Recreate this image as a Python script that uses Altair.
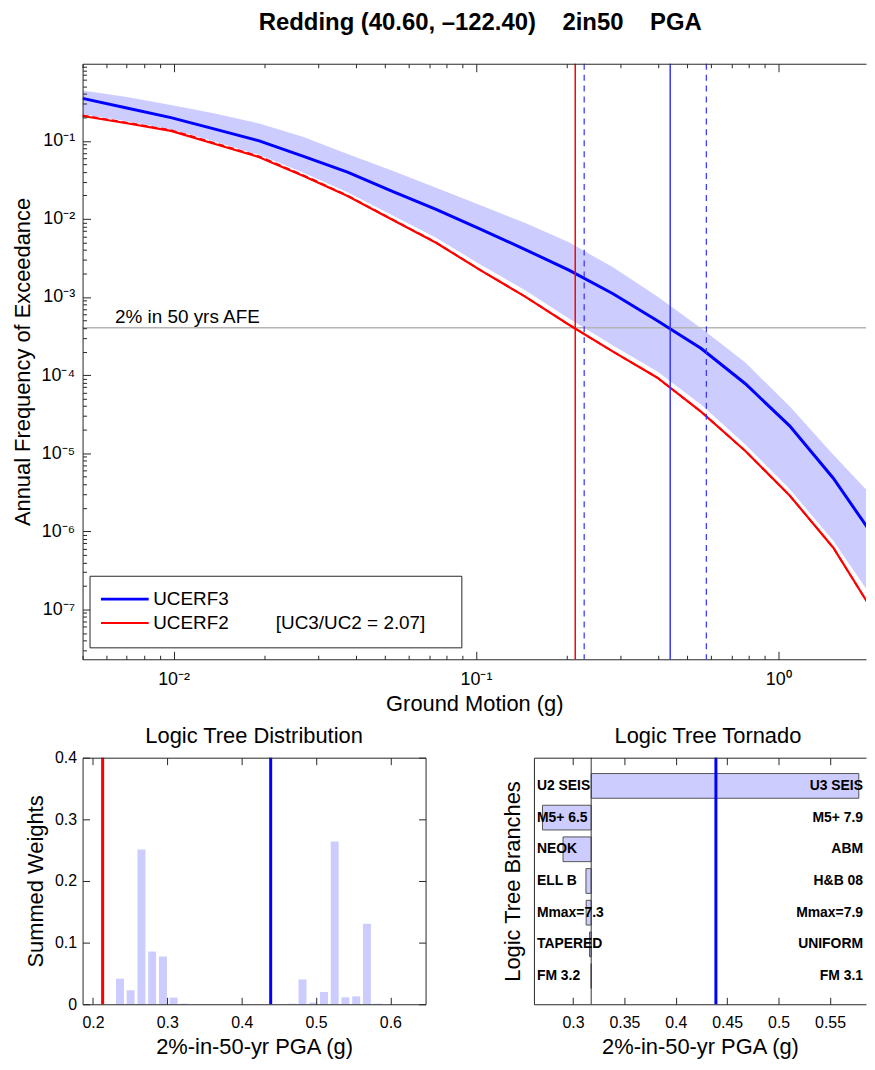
import altair as alt
import pandas as pd

FONT = "Liberation Sans, Arial, Helvetica, sans-serif"

# ---------------- data ----------------
TITLE = "Redding (40.60, \u2013122.40)\u00a0\u00a0\u00a0\u00a02in50\u00a0\u00a0\u00a0\u00a0PGA"

# ground-motion levels (g)
IML = [0.005, 0.007, 0.0098, 0.0137, 0.0192, 0.0269, 0.0376, 0.0527, 0.0738,
       0.103, 0.145, 0.203, 0.284, 0.397, 0.556, 0.778, 1.09, 1.52, 2.13]
UCERF3 = [0.349, 0.263, 0.198, 0.141, 0.100, 0.0631, 0.0398, 0.0227, 0.0132,
          0.00746, 0.00408, 0.00221, 0.00110, 5.01e-4, 2.19e-4, 7.76e-5,
          2.24e-5, 4.79e-6, 7.24e-7]
UCERF2 = [0.208, 0.168, 0.134, 0.0912, 0.0617, 0.0355, 0.0196, 0.00982, 0.00495,
          0.00223, 0.00102, 4.42e-4, 2.00e-4, 9.33e-5, 3.39e-5, 1.07e-5,
          2.88e-6, 6.17e-7, 7.59e-8]
UCERF2_DASHED = [0.212, 0.171, 0.137, 0.0935, 0.0632, 0.0362, 0.0199, 0.00995,
                 0.00500, 0.00224, 0.00102, 4.42e-4, 2.00e-4, 9.33e-5, 3.39e-5,
                 1.07e-5, 2.88e-6, 6.17e-7, 7.59e-8]
BAND_HIGH = [0.441, 0.363, 0.288, 0.224, 0.166, 0.112, 0.0676, 0.0417, 0.0251,
             0.0151, 0.00891, 0.00501, 0.00240, 0.00102, 3.98e-4, 1.45e-4,
             3.98e-5, 9.55e-6, 2.40e-6]
BAND_LOW = [0.219, 0.178, 0.141, 0.0977, 0.0661, 0.0389, 0.0219, 0.0112, 0.00575,
            0.00263, 0.00123, 5.31e-4, 2.40e-4, 1.12e-4, 4.17e-5, 1.29e-5,
            3.47e-6, 7.59e-7, 1.12e-7]

MODELS = ["UCERF3", "UCERF2"]
RATIO_TEXT = "[UC3/UC2 = 2.07]"
AFE_2IN50 = 4.04e-4
AFE_LABEL = "2% in 50 yrs AFE"
AFE_LABEL_X = 0.0064

UC2_2IN50 = 0.213
UC3_2IN50 = 0.439
UC3_RANGE = [0.228, 0.578]

# logic tree distribution histogram
HIST_PGA = [0.2363, 0.2507, 0.2652, 0.2796, 0.2941, 0.3085, 0.3229,
            0.4673, 0.4818, 0.4962, 0.5107, 0.5251, 0.5395, 0.5540, 0.5684, 0.5829]
HIST_WEIGHT = [0.0414, 0.0226, 0.251, 0.0855, 0.0774, 0.0108, 0.001,
               0.001, 0.0403, 0.0027, 0.0199, 0.264, 0.0113, 0.0129, 0.1306, 0.001]

# logic tree tornado
TORNADO_LOW = ["U2 SEIS", "M5+ 6.5", "NEOK", "ELL B", "Mmax=7.3", "TAPERED", "FM 3.2"]
TORNADO_HIGH = ["U3 SEIS", "M5+ 7.9", "ABM", "H&B 08", "Mmax=7.9", "UNIFORM", "FM 3.1"]
TORNADO_END = [0.578, 0.2703, 0.2903, 0.3126, 0.3128, 0.3161, 0.3177]
TORNADO_BASE = 0.3177

# axis limits / ticks
X_MIN, X_MAX = 0.005, 1.95
Y_MIN, Y_MAX = 2.3e-8, 0.97
HIST_X = [0.1927, 0.6406]
HIST_Y = [0, 0.4]
TORN_X = [0.262, 0.585]
HIST_XTICKS = [0.2, 0.3, 0.4, 0.5, 0.6]
HIST_YTICKS = [0, 0.1, 0.2, 0.3, 0.4]
TORN_XTICKS = [0.3, 0.35, 0.4, 0.45, 0.5, 0.55]

X_TICKS = [m * 10.0 ** e for e in range(-3, 1) for m in range(1, 10)
           if X_MIN <= m * 10.0 ** e <= X_MAX]
Y_TICKS = [m * 10.0 ** e for e in range(-8, 1) for m in range(1, 10)
           if Y_MIN <= m * 10.0 ** e <= Y_MAX]

BAND_COLOR = "#ccccff"
BLUE = "#0000ff"
RED = "#ff0000"
AX = "#262626"

# ---------------- helpers ----------------
IS_MAJOR = "abs(log(datum.value)/LN10 - round(log(datum.value)/LN10)) < 0.001"
SUPERS = ["\u2070", "\u207b\u00b9", "\u207b\u00b2", "\u207b\u00b3", "\u207b\u2074",
          "\u207b\u2075", "\u207b\u2076", "\u207b\u2077", "\u207b\u2078"]
LOG_LABEL = (IS_MAJOR + " ? '10' + [" + ",".join("'" + s + "'" for s in SUPERS) +
             "][-round(log(datum.value)/LN10)] : ''")
LOG_TICK = {"expr": IS_MAJOR + " ? -8 : -4"}
LIN_TICK = {"expr": "-7"}

xs = alt.Scale(type="log", domain=[X_MIN, X_MAX], nice=False)
ys = alt.Scale(type="log", domain=[Y_MIN, Y_MAX], nice=False)

main_x_axis = alt.Axis(orient="bottom", values=X_TICKS, labelExpr=LOG_LABEL,
                       tickSize=LOG_TICK, labelPadding=19, labelFontSize=18,
                       labelFlush=False, labelOverlap=False,
                       title="Ground Motion (g)", titleFontSize=22, titlePadding=2,
                       grid=False, zindex=1)
main_top_axis = alt.Axis(orient="top", values=X_TICKS, labels=False,
                         tickSize=LOG_TICK, title=None, grid=False, zindex=1)
main_y_axis = alt.Axis(orient="left", values=Y_TICKS, labelExpr=LOG_LABEL,
                       tickSize=LOG_TICK, labelPadding=16, labelFontSize=18,
                       labelOverlap=False, title="Annual Frequency of Exceedance",
                       titleFontSize=22, titlePadding=7, grid=False, zindex=1)

# ---------------- main hazard-curve panel ----------------
band_df = pd.DataFrame({"gm": IML, "lo": BAND_LOW, "hi": BAND_HIGH})
curve_df = pd.concat([
    pd.DataFrame({"gm": IML, "afe": UCERF3, "model": "UCERF3"}),
    pd.DataFrame({"gm": IML, "afe": UCERF2, "model": "UCERF2"}),
])
dash_df = pd.DataFrame({"gm": IML, "afe": UCERF2_DASHED})

band = alt.Chart(band_df).mark_area(color=BAND_COLOR, opacity=1, clip=True).encode(
    x=alt.X("gm:Q", scale=xs, axis=main_x_axis),
    y=alt.Y("lo:Q", scale=ys, axis=main_y_axis),
    y2="hi:Q",
)
afe_rule = alt.Chart(pd.DataFrame({"afe": [AFE_2IN50]})).mark_rule(
    color="#b4b4b4", strokeWidth=1.5).encode(y=alt.Y("afe:Q", scale=ys, axis=None))

dash_line = alt.Chart(dash_df).mark_line(
    color=RED, strokeWidth=1.8, strokeDash=[6, 4], clip=True).encode(
    x=alt.X("gm:Q", scale=xs, axis=None), y=alt.Y("afe:Q", scale=ys, axis=None))

gap = "\u00a0" * 9
trail = "\u00a0" * 4 + "\u200b"
legend = alt.Legend(
    title=None, orient="none", legendX=7, legendY=515, direction="vertical",
    strokeColor=AX, fillColor="white", padding=14,
    symbolType="M-2,0H6", symbolSize=144, symbolStrokeWidth=3,
    labelFontSize=19, labelOffset=31, rowPadding=4, labelLimit=600,
    labelExpr="datum.label == 'UCERF2' ? 'UCERF2" + gap + RATIO_TEXT + trail +
              "' : datum.label",
)
lines = alt.Chart(curve_df).mark_line(clip=True).encode(
    x=alt.X("gm:Q", scale=xs, axis=None),
    y=alt.Y("afe:Q", scale=ys, axis=None),
    color=alt.Color("model:N", scale=alt.Scale(domain=MODELS, range=[BLUE, RED]),
                    legend=legend),
    strokeWidth=alt.StrokeWidth("model:N", scale=alt.Scale(domain=MODELS, range=[3, 2.2]),
                                legend=None),
)
v_red = alt.Chart(pd.DataFrame({"gm": [UC2_2IN50]})).mark_rule(
    color=RED, strokeWidth=1.5).encode(x=alt.X("gm:Q", scale=xs, axis=main_top_axis))
v_blue = alt.Chart(pd.DataFrame({"gm": [UC3_2IN50]})).mark_rule(
    color="#3535ff", strokeWidth=1.5).encode(x=alt.X("gm:Q", scale=xs, axis=None))
v_dash = alt.Chart(pd.DataFrame({"gm": UC3_RANGE})).mark_rule(
    color="#2f2fff", strokeWidth=1.2, strokeDash=[6, 5]).encode(
    x=alt.X("gm:Q", scale=xs, axis=None))
afe_text = alt.Chart(pd.DataFrame({"gm": [AFE_LABEL_X], "afe": [AFE_2IN50],
                                   "label": [AFE_LABEL]})).mark_text(
    align="left", baseline="alphabetic", dy=-5, fontSize=19, color="black").encode(
    x=alt.X("gm:Q", scale=xs, axis=None), y=alt.Y("afe:Q", scale=ys, axis=None),
    text="label:N")

main = alt.layer(band, afe_rule, dash_line, lines, v_red, v_blue, v_dash, afe_text
                 ).resolve_axis(x="independent", y="independent").properties(
    width=788, height=599,
    title=alt.TitleParams(TITLE, fontSize=24, fontWeight="bold", offset=22, dx=6,
                          anchor="middle", frame="group"),
)

# ---------------- histogram ----------------
hx = alt.Scale(domain=HIST_X, nice=False, zero=False)
hy = alt.Scale(domain=HIST_Y, nice=False)
hist_df = pd.DataFrame({"pga": HIST_PGA, "w": HIST_WEIGHT})

hist_x_axis = alt.Axis(orient="bottom", values=HIST_XTICKS, format="~g", tickSize=LIN_TICK,
                       labelPadding=17, labelFontSize=16, labelFlush=False,
                       title="2%-in-50-yr PGA (g)", titleFontSize=22, titlePadding=7,
                       grid=False, zindex=1)
hist_y_axis = alt.Axis(orient="left", values=HIST_YTICKS, format="~g", tickSize=LIN_TICK,
                       labelPadding=13, labelFontSize=16, title="Summed Weights",
                       titleFontSize=22, titlePadding=7, grid=False, zindex=1)
hist_top = alt.Axis(orient="top", values=HIST_XTICKS, labels=False, tickSize=LIN_TICK,
                    title=None, grid=False, zindex=1)
hist_right = alt.Axis(orient="right", values=HIST_YTICKS, labels=False, tickSize=LIN_TICK,
                      title=None, grid=False, zindex=1)

h_bars = alt.Chart(hist_df).mark_bar(color=BAND_COLOR, size=8).encode(
    x=alt.X("pga:Q", scale=hx, axis=hist_x_axis),
    y=alt.Y("w:Q", scale=hy, axis=hist_y_axis))
h_ghost = alt.Chart(hist_df).mark_bar(opacity=0, size=8).encode(
    x=alt.X("pga:Q", scale=hx, axis=None),
    y=alt.Y("w:Q", scale=hy, axis=hist_right))
h_red = alt.Chart(pd.DataFrame({"pga": [UC2_2IN50]})).mark_rule(
    color=RED, strokeWidth=3).encode(x=alt.X("pga:Q", scale=hx, axis=hist_top))
h_blue = alt.Chart(pd.DataFrame({"pga": [UC3_2IN50]})).mark_rule(
    color=BLUE, strokeWidth=3).encode(x=alt.X("pga:Q", scale=hx, axis=None))

hist = alt.layer(h_bars, h_ghost, h_red, h_blue).resolve_axis(
    x="independent", y="independent").properties(
    width=345, height=248,
    title=alt.TitleParams("Logic Tree Distribution", fontSize=22, fontWeight="normal",
                          offset=2, anchor="middle", frame="group"),
)

# ---------------- tornado ----------------
tx = alt.Scale(domain=TORN_X, nice=False, zero=False)
ty = alt.Scale(domain=TORNADO_LOW, paddingInner=0.22, paddingOuter=0.5)
torn_df = pd.DataFrame({"row": TORNADO_LOW, "high": TORNADO_HIGH, "end": TORNADO_END,
                        "base": [TORNADO_BASE] * len(TORNADO_LOW),
                        "xl": [TORN_X[0]] * len(TORNADO_LOW),
                        "xr": [TORN_X[1]] * len(TORNADO_LOW)})

torn_x_axis = alt.Axis(orient="bottom", values=TORN_XTICKS, format="~g", tickSize=LIN_TICK,
                       labelPadding=17, labelFontSize=16, labelFlush=False,
                       title="2%-in-50-yr PGA (g)", titleFontSize=22, titlePadding=7,
                       grid=False, zindex=1)
torn_top = alt.Axis(orient="top", values=TORN_XTICKS, labels=False, tickSize=LIN_TICK,
                    title=None, grid=False, zindex=1)
torn_y_axis = alt.Axis(orient="left", labels=False, ticks=False,
                       title="Logic Tree Branches", titleFontSize=22, titlePadding=10,
                       grid=False, zindex=1)

t_bars = alt.Chart(torn_df).mark_bar(color=BAND_COLOR, stroke="#555555", strokeWidth=1).encode(
    x=alt.X("end:Q", scale=tx, axis=torn_x_axis), x2="base:Q",
    y=alt.Y("row:N", scale=ty, sort=None, axis=torn_y_axis))
t_base = alt.Chart(pd.DataFrame({"x": [TORNADO_BASE]})).mark_rule(
    color="#333333", strokeWidth=1).encode(x=alt.X("x:Q", scale=tx, axis=torn_top))
t_blue = alt.Chart(pd.DataFrame({"x": [UC3_2IN50]})).mark_rule(
    color=BLUE, strokeWidth=3).encode(x=alt.X("x:Q", scale=tx, axis=None))
t_left = alt.Chart(torn_df).mark_text(align="left", baseline="middle", dx=3, fontSize=14,
                                      fontWeight="bold", color="black").encode(
    x=alt.X("xl:Q", scale=tx, axis=None), y=alt.Y("row:N", scale=ty, sort=None, axis=None),
    text="row:N")
t_right = alt.Chart(torn_df).mark_text(align="right", baseline="middle", dx=-3, fontSize=14,
                                       fontWeight="bold", color="black").encode(
    x=alt.X("xr:Q", scale=tx, axis=None), y=alt.Y("row:N", scale=ty, sort=None, axis=None),
    text="high:N")

torn = alt.layer(t_bars, t_base, t_blue, t_left, t_right).resolve_axis(
    x="independent", y="independent").properties(
    width=334, height=248,
    title=alt.TitleParams("Logic Tree Tornado", fontSize=22, fontWeight="normal",
                          offset=8, dx=8, anchor="middle", frame="group"),
)

bottom = alt.hconcat(hist, torn, spacing=109, bounds="flush")

chart = alt.vconcat(main, bottom, spacing=99, bounds="flush").properties(
    padding={"left": 3, "top": 0, "right": 0, "bottom": 0}
).configure_view(stroke=None).configure_axis(
    labelFont=FONT, titleFont=FONT, titleFontWeight="normal", labelColor="black",
    titleColor="black", domainColor=AX, tickColor=AX, domainWidth=1, tickWidth=1,
).configure_title(font=FONT, color="black").configure_legend(
    labelFont=FONT, labelColor="black"
).configure_text(font=FONT)

chart.save("out.html", embed_options={"renderer": "svg", "actions": False})
